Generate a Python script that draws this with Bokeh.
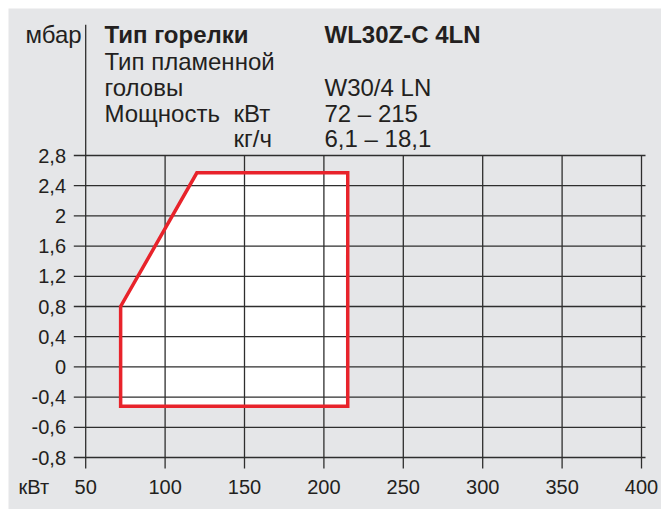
import numpy as np
from bokeh.plotting import figure
from bokeh.layouts import column, row
from bokeh.models import Range1d, Spacer, ColumnDataSource
from bokeh.core.properties import value
from bokeh.embed import file_html
from bokeh.resources import INLINE

# ---- data ----
X_TICKS = [50, 100, 150, 200, 250, 300, 350, 400]
X_LABELS = ["50", "100", "150", "200", "250", "300", "350", "400"]
Y_TICKS = [2.8, 2.4, 2.0, 1.6, 1.2, 0.8, 0.4, 0.0, -0.4, -0.6, -0.8]
Y_LABELS = ["2,8", "2,4", "2", "1,6", "1,2", "0,8", "0,4", "0", "-0,4", "-0,6", "-0,8"]
POWER_KW = [72, 72, 120, 215, 215]
PRESSURE_MBAR = [-0.46, 0.8, 2.57, 2.57, -0.46]

UNIT_Y = "мбар"
UNIT_X = "кВт"
HEAD_BURNER = "Тип горелки"
HEAD_BURNER_VAL = "WL30Z-C 4LN"
HEAD_FLAME_1 = "Тип пламенной"
HEAD_FLAME_2 = "головы"
HEAD_FLAME_VAL = "W30/4 LN"
HEAD_POWER = "Мощность"
HEAD_POWER_U1 = "кВт"
HEAD_POWER_V1 = "72 – 215"
HEAD_POWER_U2 = "кг/ч"
HEAD_POWER_V2 = "6,1 – 18,1"

# ---- styling / layout ----
BG = "#e5e6e8"
INK = "#231f20"
GRID = "#2e2e2e"
RED = "#e8232b"
FONT = "Liberation Sans"

n = len(Y_TICKS)
y_pos = [n - 1 - i for i in range(n)]          # 2.8 -> 10 ... -0.8 -> 0
asc_vals = Y_TICKS[::-1]
asc_pos = y_pos[::-1]


def ymap(v):
    return list(np.interp(v, asc_vals, asc_pos))


# page-pixel geometry of the reference (canvas starts at page 8,8)
PX_X50, PX_PER_KW = 85.2, 79.4 / 50.0
PY_TOP_TICK, PX_PER_STEP = 155.0, 30.2


def kx(px):
    return X_TICKS[0] + (px - PX_X50) / PX_PER_KW


def ky(py_):
    return y_pos[0] - (py_ - PY_TOP_TICK) / PX_PER_STEP


W, H = 653, 501
X0, X1 = kx(8), kx(8 + W)
Y0, Y1 = ky(8 + H), ky(8)

p = figure(width=W, height=H, output_backend="svg", toolbar_location=None, title=None,
           x_range=Range1d(X0, X1), y_range=Range1d(Y0, Y1),
           x_axis_type=None, y_axis_type=None, min_border=0,
           background_fill_color=BG, border_fill_color=BG, outline_line_color=None)
p.xgrid.visible = False
p.ygrid.visible = False

# polygon fill
py = ymap(PRESSURE_MBAR)
p.patch(POWER_KW, py, fill_color="white", line_color=None)

# grid lines
GX0, GX1 = kx(73.3), kx(645)
GY0, GYAX = ky(468), ky(24.3)
top = max(y_pos)
p.segment(x0=[GX0] * n, y0=y_pos, x1=[GX1] * n, y1=y_pos, line_color=GRID, line_width=1.3)
p.segment(x0=X_TICKS, y0=[GY0] * len(X_TICKS), x1=X_TICKS, y1=[top] * len(X_TICKS),
          line_color=GRID, line_width=1.3)
p.segment(x0=[X_TICKS[0]], y0=[top], x1=[X_TICKS[0]], y1=[GYAX], line_color=GRID, line_width=1.3)

# polygon outline
p.patch(POWER_KW, py, fill_color=None, line_color=RED, line_width=3.5, line_join="miter")

# tick labels
ysrc = ColumnDataSource(dict(x=[kx(65.5)] * n, y=y_pos, t=Y_LABELS))
p.text(x="x", y="y", text="t", source=ysrc, text_font=value(FONT), text_font_size="20px",
       text_color=INK, text_align="right", text_baseline="middle")
xsrc = ColumnDataSource(dict(x=X_TICKS, y=[ky(486)] * len(X_TICKS), t=X_LABELS))
p.text(x="x", y="y", text="t", source=xsrc, text_font=value(FONT), text_font_size="20px",
       text_color=INK, text_align="center", text_baseline="middle")


def lab(text, px, py_, size="24px", bold=False):
    p.text(x=[kx(px)], y=[ky(py_)], text=[text], text_font=value(FONT),
           text_font_size=size, text_color=INK,
           text_font_style="bold" if bold else "normal",
           text_align="left", text_baseline="middle")


R1, R2, R3, R4, R5 = 34, 60.5, 86.5, 112.5, 138.2
lab(UNIT_Y, 25, R1)
lab(HEAD_BURNER, 104, R1, bold=True)
lab(HEAD_BURNER_VAL, 324, R1, bold=True)
lab(HEAD_FLAME_1, 104, R2)
lab(HEAD_FLAME_2, 104, R3)
lab(HEAD_FLAME_VAL, 324, R3)
lab(HEAD_POWER, 104, R4)
lab(HEAD_POWER_U1, 233, R4)
lab(HEAD_POWER_V1, 324, R4)
lab(HEAD_POWER_U2, 233, R5)
lab(HEAD_POWER_V2, 324, R5)
lab(UNIT_X, 18, 486, size="20px")

layout = column(Spacer(width=W + 8, height=8), row(Spacer(width=8, height=H), p))
open("out.html", "w").write(file_html(layout, INLINE))
